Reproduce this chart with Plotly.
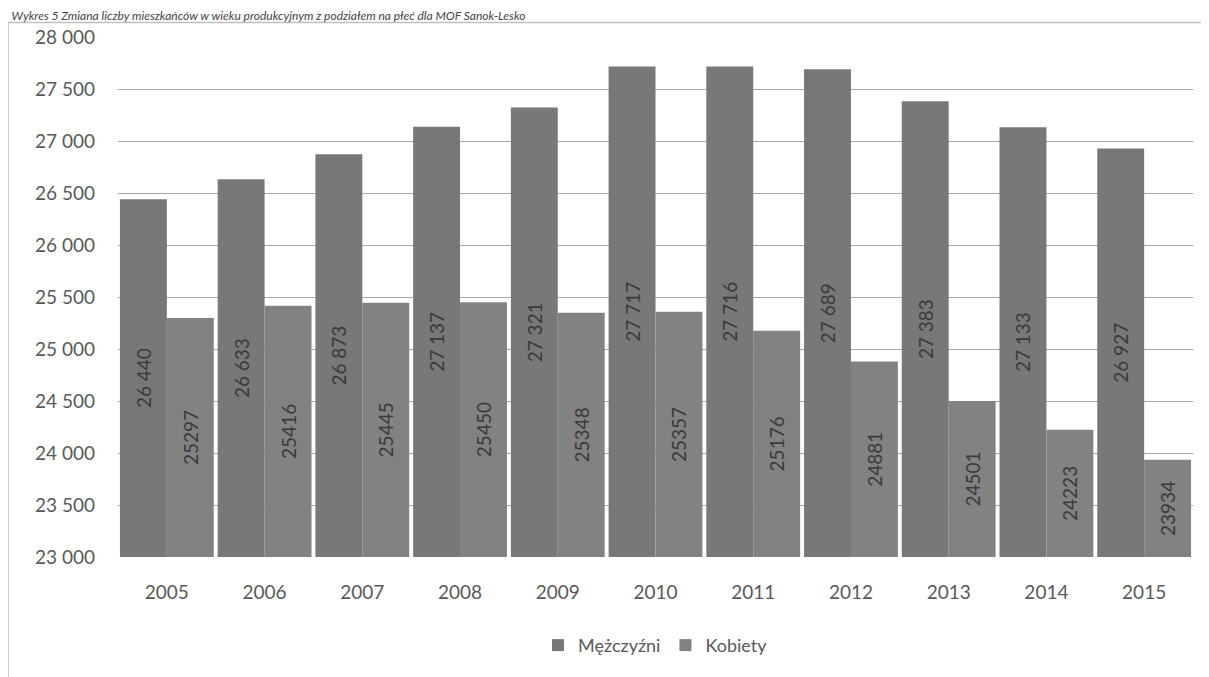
import plotly.graph_objects as go

years = ["2005", "2006", "2007", "2008", "2009", "2010", "2011", "2012", "2013", "2014", "2015"]
men = [26440, 26633, 26873, 27137, 27321, 27717, 27716, 27689, 27383, 27133, 26927]
women = [25297, 25416, 25445, 25450, 25348, 25357, 25176, 24881, 24501, 24223, 23934]
tick_vals = [23000, 23500, 24000, 24500, 25000, 25500, 26000, 26500, 27000, 27500, 28000]
axis_min = 23000
axis_max = 28000
title_text = "Wykres 5 Zmiana liczby mieszkańców w wieku produkcyjnym z podziałem na płeć dla MOF Sanok-Lesko"

FONT = "Lato, Carlito, Calibri, sans-serif"
FS = 19

# Bars start at the axis minimum (as in the original chart), so labels centre in the visible part
fig = go.Figure()
fig.add_trace(go.Bar(
    x=years, y=[v - axis_min for v in men], base=axis_min, name="Mężczyźni",
    customdata=men,
    marker=dict(color="#787878", line=dict(width=0)),
    texttemplate="%{customdata:,d}", textposition="inside", insidetextanchor="middle",
    textangle=-90, textfont=dict(color="#3a3a3a", size=FS, family=FONT),
    hovertemplate="%{x}: %{customdata:,d}<extra>Mężczyźni</extra>",
))
fig.add_trace(go.Bar(
    x=years, y=[v - axis_min for v in women], base=axis_min, name="Kobiety",
    customdata=women,
    marker=dict(color="#828282", line=dict(width=0)),
    texttemplate="%{customdata:d}", textposition="inside", insidetextanchor="middle",
    textangle=-90, textfont=dict(color="#3a3a3a", size=FS, family=FONT),
    hovertemplate="%{x}: %{customdata:d}<extra>Kobiety</extra>",
))

fig.update_layout(
    width=1201, height=669,
    margin=dict(l=110, r=16, t=29, b=120),
    paper_bgcolor="white", plot_bgcolor="white",
    separators=", ",
    barmode="group", bargap=0.04, bargroupgap=0,
    font=dict(family=FONT, size=FS, color="#595959"),
    title=dict(text=title_text, x=0.003, xanchor="left", xref="container",
               y=0.994, yanchor="top", yref="container",
               font=dict(size=12, color="#444444", family=FONT, style="italic")),
    legend=dict(orientation="h", x=0.5, xanchor="center", y=-0.17, yanchor="middle",
                font=dict(size=18, color="#595959"), itemwidth=30, traceorder="normal"),
    uniformtext=dict(minsize=8, mode="show"),
    shapes=[dict(type="rect", xref="paper", yref="paper",
                 x0=-110/1075, x1=1.011, y0=-0.3, y1=1.028,
                 line=dict(color="#bfbfbf", width=1.5), layer="below")],
)
fig.update_xaxes(showgrid=False, showline=False, ticks="", ticklabelstandoff=22,
                 tickfont=dict(size=FS, color="#595959"))
fig.update_yaxes(range=[axis_min, axis_max], tickvals=tick_vals, tickformat=",d",
                 showgrid=True, gridcolor="#a6a6a6", gridwidth=1.3,
                 zeroline=False, showline=False, ticks="", ticklabelstandoff=22,
                 tickfont=dict(size=FS, color="#595959"))

fig.write_html("out.html")
